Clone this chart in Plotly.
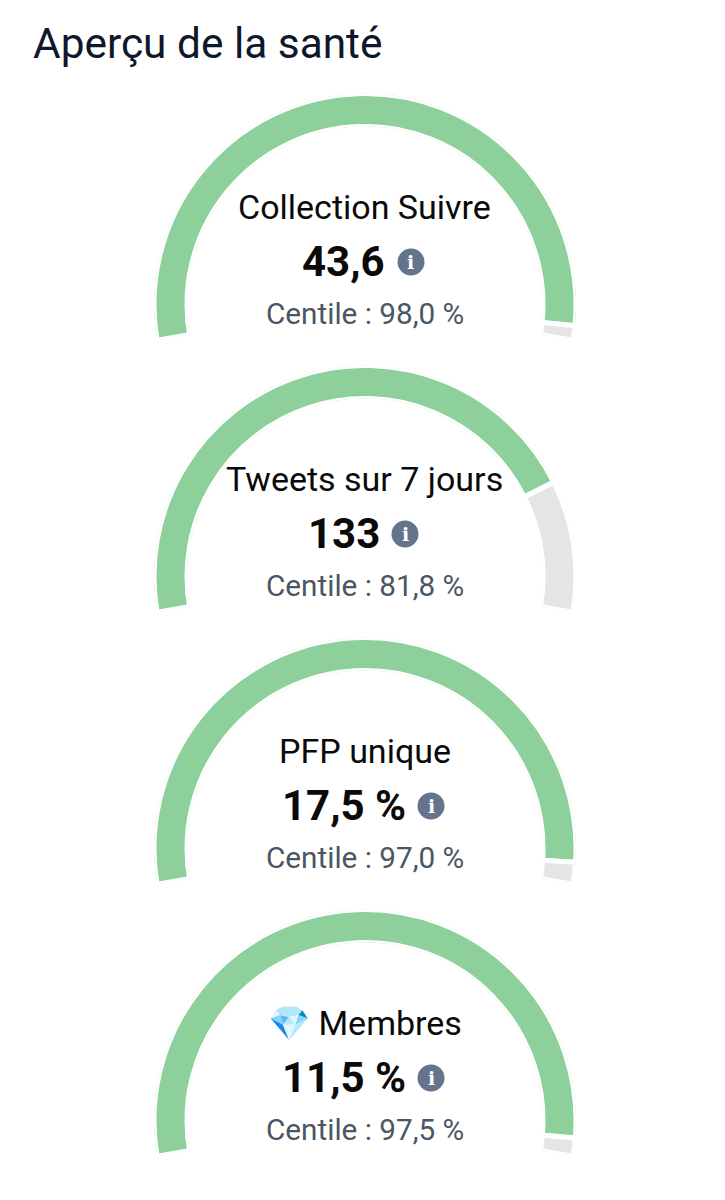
import math
import plotly.graph_objects as go

W, H = 725, 1200
title = "Aperçu de la santé"
labels = ["Collection Suivre", "Tweets sur 7 jours", "PFP unique", "💎 Membres"]
values = ["43,6", "133", "17,5 %", "11,5 %"]
percentiles = [98.0, 81.8, 97.0, 97.5]
percentile_text = ["Centile : 98,0 %", "Centile : 81,8 %", "Centile : 97,0 %", "Centile : 97,5 %"]

SWEEP = 199.5
CX, R, INNER, GAP = 365, 208.5, 180.5, 5
TOPS = [96, 368, 640, 912]
VALUE_X = [343, 344, 343.5, 343.5]
ICON_X = [411, 405, 431, 431]


def px(x):
    return x / W


def py(y):
    return 1 - y / H


fig = go.Figure()
annotations = []
shapes = []
layout_polars = {}
low = (SWEEP - 180) / 2
for i, p in enumerate(percentiles):
    top = TOPS[i]
    r = R + GAP / 2
    cy = top + R
    name = "polar" if i == 0 else "polar%d" % (i + 1)
    deg = p * SWEEP / 100
    fig.add_trace(go.Barpolar(
        theta=[deg / 2, deg + (SWEEP - deg) / 2],
        width=[deg, SWEEP - deg],
        r=[1, 1],
        subplot=name,
        hoverinfo="skip",
        showlegend=False,
        marker=dict(color=["#8dd09b", "#e5e5e5"],
                    line=dict(color="#ffffff", width=GAP)),
    ))
    layout_polars[name] = dict(
        domain=dict(x=[px(CX - r), px(CX + r)],
                    y=[py(cy + r * math.sin(math.radians(low))), py(cy - r)]),
        sector=[-low, 180 + low],
        hole=(INNER - GAP / 2) / r,
        bgcolor="rgba(0,0,0,0)",
        barmode="overlay",
        radialaxis=dict(visible=False, range=[0, 1]),
        angularaxis=dict(visible=False, rotation=180 + low, direction="clockwise",
                         thetaunit="degrees"),
    )
    annotations += [
        dict(x=px(CX - 0.5), y=py(top + 111.2), text=labels[i],
             font=dict(family="Roboto", size=34, color="#0a0a0a")),
        dict(x=px(VALUE_X[i]), y=py(top + 165.5), text="<b>%s</b>" % values[i],
             font=dict(family="Roboto", size=42, color="#0a0a0a")),
        dict(x=px(CX - 0.3), y=py(top + 217.2), text=percentile_text[i],
             font=dict(family="Roboto", size=29.7, color="#4b5563")),
        dict(x=px(ICON_X[i]), y=py(top + 165.5), text="<b>i</b>",
             font=dict(family="DejaVu Serif", size=19, color="#ffffff")),
    ]
    shapes.append(dict(type="circle", xref="paper", yref="paper", layer="below",
                       x0=px(ICON_X[i] - 13.5), x1=px(ICON_X[i] + 13.5),
                       y0=py(top + 166 + 13.5), y1=py(top + 166 - 13.5),
                       fillcolor="#64748b", line=dict(width=0)))

for a in annotations:
    a.update(xref="paper", yref="paper", showarrow=False,
             xanchor="center", yanchor="middle")
annotations.append(dict(x=px(31), y=py(43), xref="paper", yref="paper", showarrow=False,
                        xanchor="left", yanchor="middle", text=title,
                        font=dict(family="Roboto", size=42.4, color="#0f172a")))

fig.update_layout(width=W, height=H, margin=dict(l=0, r=0, t=0, b=0),
                  paper_bgcolor="#ffffff", plot_bgcolor="#ffffff",
                  annotations=annotations, shapes=shapes, **layout_polars)
fig.write_html("out.html", config={"displayModeBar": False},
               post_script="document.body.style.margin='0';document.documentElement.style.overflow='hidden';")
